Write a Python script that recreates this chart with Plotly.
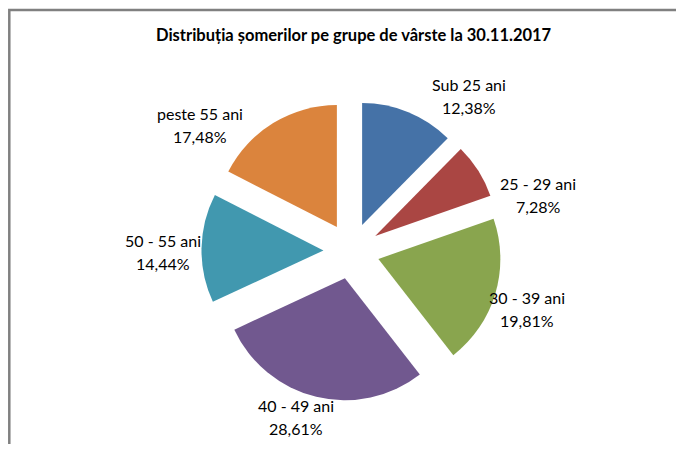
import plotly.graph_objects as go

categories = ["Sub 25 ani", "25 - 29 ani", "30 - 39 ani", "40 - 49 ani", "50 - 55 ani", "peste 55 ani"]
values = [12.38, 7.28, 19.81, 28.61, 14.44, 17.48]
colors = ["#4572A7", "#AA4643", "#89A54E", "#71588F", "#4198AF", "#DB843D"]
title = "Distribuția șomerilor pe grupe de vârste la 30.11.2017"

OFF = 8  # browser body margin
W, H = 684 - 2 * OFF, 452 - 2 * OFF
cx, cy = 351.5 - OFF, 251 - OFF
half = 150

# label block centres (screen px), layout only
label_pos = [(469, 96), (538, 195), (527, 309), (296, 417), (163, 252), (200, 125)]
LINE_GAP = 11.5

def px(x):
    return (x - OFF) / W

def py(y):
    return 1 - (y - OFF) / H

fig = go.Figure(go.Pie(
    labels=categories,
    values=values,
    sort=False,
    direction="clockwise",
    rotation=0,
    pull=[0.23] * len(values),
    marker=dict(colors=colors, line=dict(width=0)),
    textinfo="none",
    showlegend=False,
    hoverinfo="label+percent",
    domain=dict(x=[(cx - half) / W, (cx + half) / W],
                y=[(H - cy - half) / H, (H - cy + half) / H]),
))

label_font = dict(family="Lato", size=16, color="#000000")
annotations = [dict(text="<b>" + title + "</b>", xref="paper", yref="paper",
                    x=px(353.5), y=py(35), xanchor="center", yanchor="middle",
                    showarrow=False, font=dict(family="Lato", size=16.5, color="#000000"))]
for cat, val, (lx, ly) in zip(categories, values, label_pos):
    pct = f"{val:.2f}".replace(".", ",") + "%"
    annotations.append(dict(text=cat, xref="paper", yref="paper", x=px(lx), y=py(ly - LINE_GAP),
                            xanchor="center", yanchor="middle", showarrow=False, font=label_font))
    annotations.append(dict(text=pct, xref="paper", yref="paper", x=px(lx), y=py(ly + LINE_GAP),
                            xanchor="center", yanchor="middle", showarrow=False, font=label_font))

fig.update_layout(
    width=W, height=H, autosize=False,
    margin=dict(l=0, r=0, t=0, b=0, pad=0, autoexpand=False),
    paper_bgcolor="white",
    plot_bgcolor="white",
    separators=",.",
    shapes=[dict(type="rect", xref="paper", yref="paper",
                 x0=1.3 / W, x1=1.05, y0=-0.05, y1=1 - 2 / H,
                 line=dict(color="#808080", width=2.5))],
    annotations=annotations,
)

fig.write_html("out.html", config={"responsive": False})
